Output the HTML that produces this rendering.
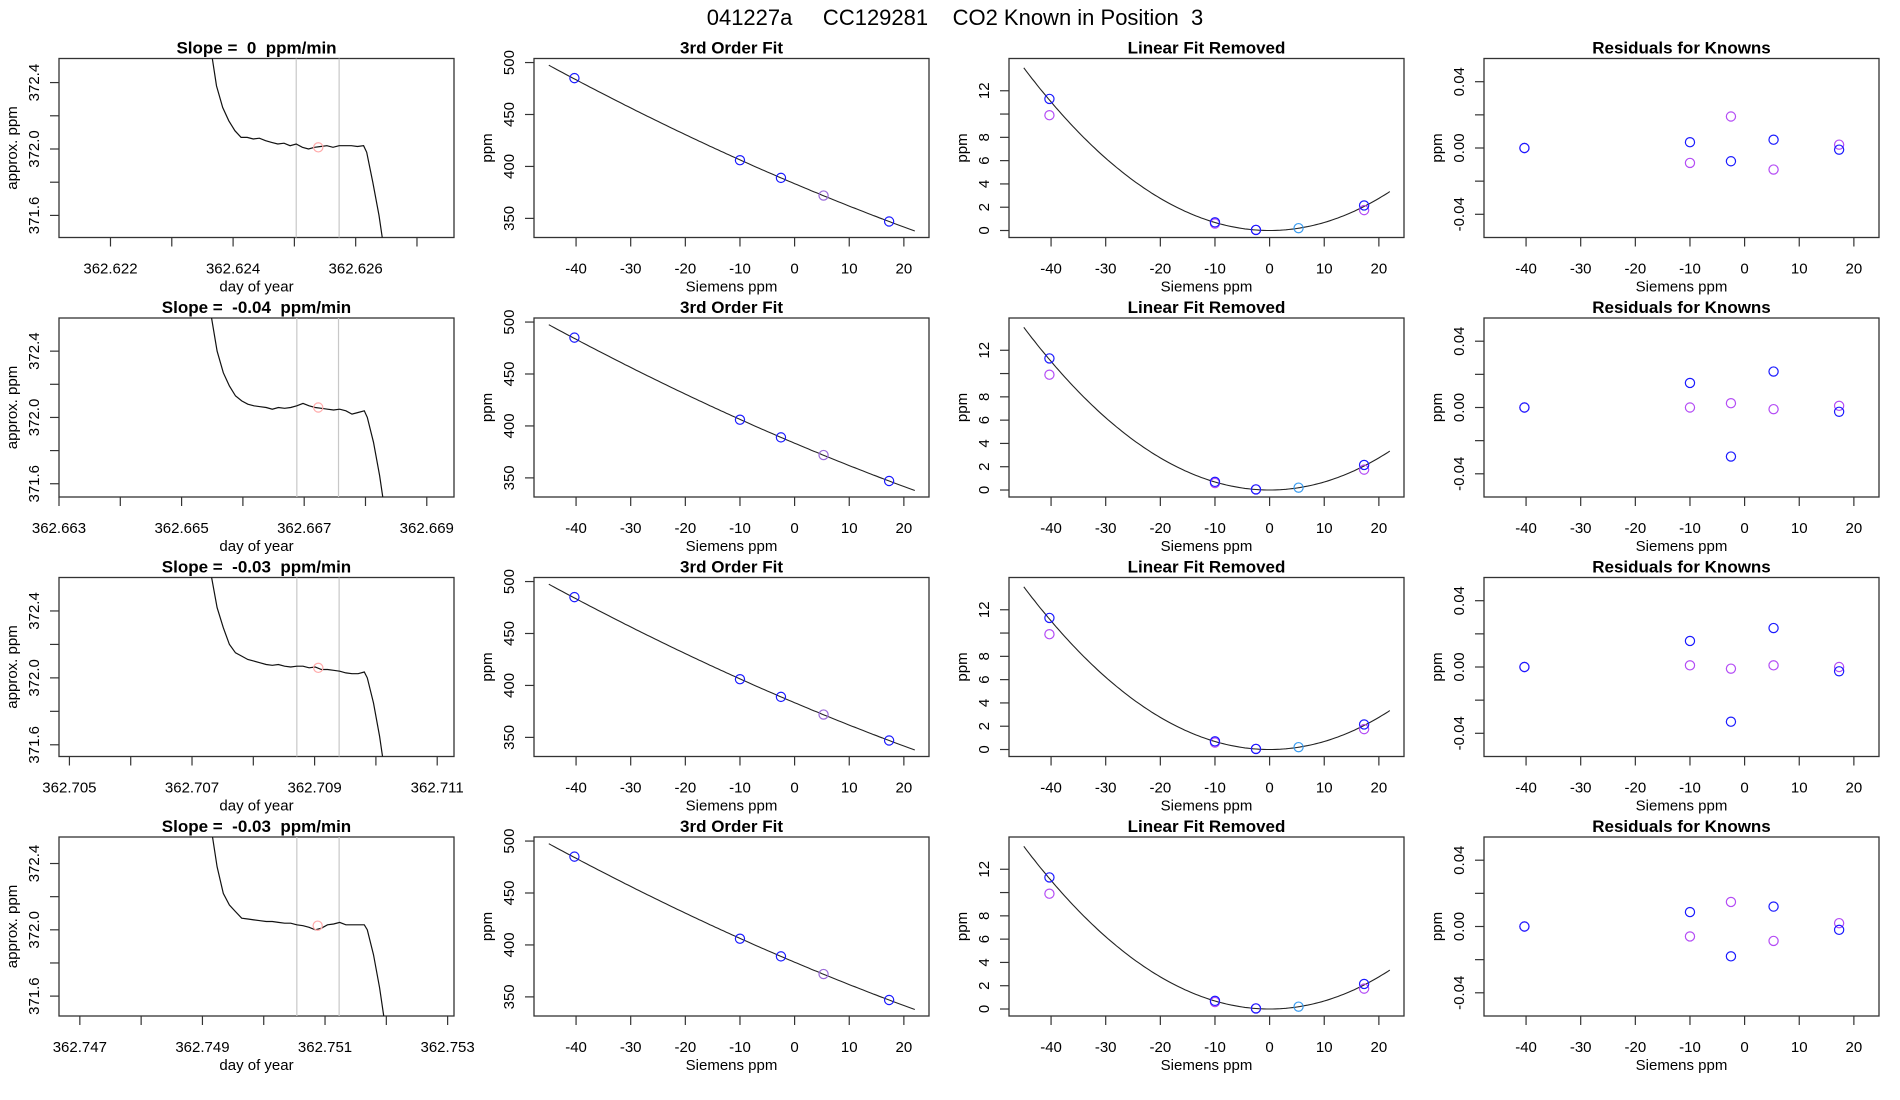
<!DOCTYPE html>
<html><head><meta charset="utf-8"><style>
html,body{margin:0;padding:0;background:#fff}
svg{display:block}
text{font-family:"Liberation Sans",Arial,sans-serif;white-space:pre}
</style></head><body>
<svg id="fig" width="1900" height="1100" viewBox="0 0 1900 1100" xmlns="http://www.w3.org/2000/svg" xml:space="preserve">
<text x="955" y="25" text-anchor="middle" font-size="22">041227a     CC129281    CO2 Known in Position  3</text>
</svg>
<script>
// ---------- data ----------
const slopes = ["0", "-0.04", "-0.03", "-0.03"];
const dayMin = [362.62116, 362.66300, 362.70483, 362.74666];
const dayTicksStart = [362.622, 362.663, 362.705, 362.747];
const grayLine1 = [362.62503, 362.66688, 362.70871, 362.75054];
const grayLine2 = [362.62573, 362.66756, 362.70940, 362.75123];
const ppmMin = [371.467, 371.52, 371.53, 371.48];
const ppmMax = [372.545, 372.60, 372.60, 372.56];
// curve times in 1e-4 day relative to first gray line
const curveT = [-14,-13,-12,-11,-10,-9,-8,-7,-6,-5,-4,-3,-2,-1,0,1,2,3,4,5,6,7,8,9,10,11,11.5,12.5,13.5,14.5];
const curveRow1 = [372.62,372.38,372.25,372.17,372.11,372.07,372.07,372.06,372.065,372.05,372.04,372.03,372.035,372.02,372.03,372.01,372.0,372.01,372.015,372.02,372.01,372.02,372.02,372.02,372.015,372.02,371.98,371.8,371.6,371.35];
const curveRow2 = [372.62,372.4,372.27,372.19,372.13,372.1,372.08,372.07,372.065,372.06,372.05,372.06,372.055,372.06,372.07,372.085,372.07,372.06,372.055,372.05,372.045,372.05,372.04,372.02,372.03,372.04,372.0,371.85,371.65,371.4];
const curveRow3 = [372.62,372.42,372.3,372.2,372.15,372.13,372.11,372.1,372.09,372.08,372.075,372.08,372.07,372.065,372.07,372.07,372.06,372.065,372.05,372.05,372.045,372.04,372.03,372.025,372.025,372.035,372.0,371.85,371.65,371.4];
const curveRow4 = [372.62,372.38,372.22,372.15,372.11,372.07,372.065,372.06,372.055,372.05,372.05,372.045,372.04,372.04,372.03,372.025,372.015,372.0,372.01,372.03,372.035,372.045,372.03,372.03,372.03,372.03,372.0,371.85,371.65,371.4];
const curves = [curveRow1, curveRow2, curveRow3, curveRow4];
const pinkT = [3.6, 3.5, 3.5, 3.4];
const pinkV = [372.01, 372.06, 372.06, 372.025];

const siemens = [-40.3, -10, -2.5, 5.3, 17.3];
const knownPpm = [485, 406, 389, 372, 347];
const fitCoef = [383.4, -2.224, 0.0069, 0];
const linRemovedBlue = [11.3, 0.7, 0.05, 0.2, 2.15];
const linRemovedPurple = [9.9, 0.6, 0.05, 0.2, 1.75];
const residBlue = [[0,0.0035,-0.008,0.005,-0.001],[0,0.0148,-0.0296,0.0217,-0.0026],[0,0.0157,-0.033,0.0235,-0.0026],[0,0.0087,-0.018,0.012,-0.002]];
const residPurple = [[0,-0.009,0.019,-0.013,0.002],[0,0,0.0026,-0.001,0.001],[0,0.001,-0.001,0.001,0],[0,-0.006,0.0148,-0.0087,0.002]];
const xTicksSiemens = [-40,-30,-20,-10,0,10,20];
const yTicksFit = [350,400,450,500];
const yTicksLin = [0,2,4,6,8,10,12];
const yLabelsLin = ["0","2","4","6","8","","12"];
const yTicksRes = [-0.04,-0.02,0,0.02,0.04];
const yLabelsRes = ["-0.04","","0.00","","0.04"];
const yTicksDay = [371.6,371.8,372.0,372.2,372.4];
const yLabelsDay = ["371.6","","372.0","","372.4"];

// ---------- layout ----------
const NS = "http://www.w3.org/2000/svg";
const svg = document.getElementById("fig");
const colX = [59, 534, 1009, 1484], W = 395, H = 179;
const rowY = [58.5, 318, 577.5, 837];
function mk(tag, attrs, parent){const e=document.createElementNS(NS,tag);for(const k in attrs)e.setAttribute(k,attrs[k]);(parent||svg).appendChild(e);return e;}
function scale(d0,d1,r0,r1){return v=>r0+(v-d0)/(d1-d0)*(r1-r0);}
let clipId=0;
function panel(r,c,title,xdom,ydom,xticks,xlabels,yticks,ylabels,xlab,ylab){
  const x0=colX[c], y0=rowY[r];
  const g=mk("g",{});
  
  
  const sx=scale(xdom[0],xdom[1],x0,x0+W), sy=scale(ydom[0],ydom[1],y0+H,y0);
  const id="clip"+(clipId++);
  const cp=mk("clipPath",{id:id},g); mk("rect",{x:x0,y:y0,width:W,height:H},cp);
  const t=mk("text",{x:x0+W/2,y:y0-5,"text-anchor":"middle","font-size":"17","font-weight":"bold"},g); t.textContent=title;
  
  
  const box=mk("rect",{x:x0,y:y0,width:W,height:H,fill:"none",stroke:"#333","stroke-width":"1.3"},g);
  
  
  const xa=mk("g",{},g);
  
  
  xticks.forEach((v,i)=>{const px=sx(v);mk("line",{x1:px,x2:px,y1:y0+H,y2:y0+H+9,stroke:"#333","stroke-width":"1.2"},xa);
    if(xlabels[i]){const l=mk("text",{x:px,y:y0+H+36,"text-anchor":"middle","font-size":"15"},xa);l.textContent=xlabels[i];}});
  const xl=mk("text",{x:x0+W/2,y:y0+H+54,"text-anchor":"middle","font-size":"15"},g); xl.textContent=xlab;
  
  
  const ya=mk("g",{},g);
  
  
  yticks.forEach((v,i)=>{const py=sy(v);mk("line",{x1:x0-9,x2:x0,y1:py,y2:py,stroke:"#333","stroke-width":"1.2"},ya);
    if(ylabels[i]){const l=mk("text",{x:x0-20,y:py,"text-anchor":"middle","font-size":"15",transform:"rotate(-90 "+(x0-20)+" "+py+")"},ya);l.textContent=ylabels[i];}});
  const yl=mk("text",{x:x0-42,y:y0+H/2,"text-anchor":"middle","font-size":"15",transform:"rotate(-90 "+(x0-42)+" "+(y0+H/2)+")"},g); yl.textContent=ylab;
  
  
  const plot=mk("g",{"clip-path":"url(#"+id+")"},g);
  return {sx,sy,plot};
}
function circle(p,x,y,col,name){const c=mk("circle",{cx:x,cy:y,r:4.6,fill:"none",stroke:col,"stroke-width":"1.2"},p);
  
  }
const BLUE="#1a1aff", PURP="#b44cf5", CYAN="#3a9cf0", MID="#9a6ad8", PINK="#ffaaaa";

for(let r=0;r<4;r++){
  // panel 1
  const dMin=dayMin[r], dMax=dMin+0.006444;
  const dt=[],dl=[];
  for(let k=0;k<=6;k++){const v=dayTicksStart[r]+k*0.001;if(v>=dMin-1e-7&&v<=dMax){dt.push(v);dl.push(k%2===0?v.toFixed(3):"");}}
  const p1=panel(r,0,"Slope =  "+slopes[r]+"  ppm/min",[dMin,dMax],[ppmMin[r],ppmMax[r]],dt,dl,yTicksDay,yLabelsDay,"day of year","approx. ppm");
  [grayLine1[r],grayLine2[r]].forEach(v=>{const l=mk("line",{x1:p1.sx(v),x2:p1.sx(v),y1:rowY[r],y2:rowY[r]+H,stroke:"#c8c8c8","stroke-width":"1.2"},p1.plot);
    
    });
  const pts=curveT.map((t,i)=>p1.sx(grayLine1[r]+t*1e-4).toFixed(1)+","+p1.sy(curves[r][i]).toFixed(1)).join(" ");
  const pl=mk("polyline",{points:pts,fill:"none",stroke:"#111","stroke-width":"1.2"},p1.plot);
  
  
  circle(p1.plot,p1.sx(grayLine1[r]+pinkT[r]*1e-4),p1.sy(pinkV[r]),PINK,"mean-point");

  // panel 2
  const xs=xTicksSiemens.map(String);
  const p2=panel(r,1,"3rd Order Fit",[-47.7,24.6],[331.6,503.9],xTicksSiemens,xs,yTicksFit,yTicksFit.map(String),"Siemens ppm","ppm");
  const fpts=[];for(let x=-45;x<=22.01;x+=0.5){const y=fitCoef[0]+fitCoef[1]*x+fitCoef[2]*x*x+fitCoef[3]*x*x*x;fpts.push(p2.sx(x).toFixed(1)+","+p2.sy(y).toFixed(1));}
  const fl=mk("polyline",{points:fpts.join(" "),fill:"none",stroke:"#222","stroke-width":"1.1"},p2.plot);
  
  
  siemens.forEach((x,i)=>circle(p2.plot,p2.sx(x),p2.sy(knownPpm[i]),i===3?MID:BLUE,"known-point"));

  // panel 3
  const p3=panel(r,2,"Linear Fit Removed",[-47.7,24.6],[-0.6,14.77],xTicksSiemens,xs,yTicksLin,yLabelsLin,"Siemens ppm","ppm");
  const qpts=[];for(let x=-45;x<=22.01;x+=0.5){qpts.push(p3.sx(x).toFixed(1)+","+p3.sy(fitCoef[2]*x*x+fitCoef[3]*x*x*x).toFixed(1));}
  const ql=mk("polyline",{points:qpts.join(" "),fill:"none",stroke:"#222","stroke-width":"1.1"},p3.plot);
  
  
  siemens.forEach((x,i)=>{if(i!==3)circle(p3.plot,p3.sx(x),p3.sy(linRemovedPurple[i]),PURP,"purple-point");});
  siemens.forEach((x,i)=>circle(p3.plot,p3.sx(x),p3.sy(linRemovedBlue[i]),i===3?CYAN:BLUE,"blue-point"));

  // panel 4
  const p4=panel(r,3,"Residuals for Knowns",[-47.7,24.6],[-0.054,0.054],xTicksSiemens,xs,yTicksRes,yLabelsRes,"Siemens ppm","ppm");
  siemens.forEach((x,i)=>circle(p4.plot,p4.sx(x),p4.sy(residPurple[r][i]),PURP,"residual-purple"));
  siemens.forEach((x,i)=>circle(p4.plot,p4.sx(x),p4.sy(residBlue[r][i]),BLUE,"residual-blue"));
}
</script>
</body></html>
